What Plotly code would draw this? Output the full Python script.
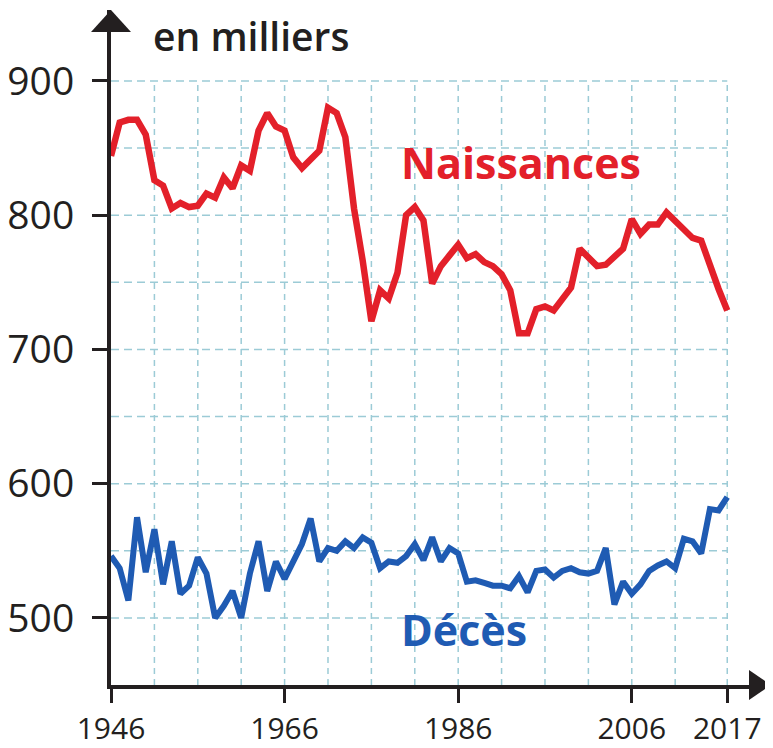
import plotly.graph_objects as go

# Naissances et décès en France (en milliers)
years = list(range(1946, 2018))

naissances = [
    844, 869, 871, 871, 860, 826, 822, 805, 809, 806,
    807, 816, 813, 828, 820, 837, 833, 863, 876, 866,
    863, 843, 835, 842, 848, 880, 876, 858, 805, 766,
    721, 744, 738, 757, 800, 806, 796, 749, 762, 770,
    778, 768, 771, 765, 762, 756, 744, 712, 712, 730,
    732, 729, 738, 746, 775, 769, 762, 763, 769, 775,
    797, 786, 793, 793, 802, 796, 790, 783, 781, 762,
    745, 729,
]

deces = [
    546, 537, 513, 575, 534, 566, 525, 557, 518, 524,
    545, 533, 500, 509, 520, 500, 533, 557, 520, 542,
    529, 542, 555, 574, 542, 552, 550, 557, 552, 560,
    556, 537, 542, 541, 546, 555, 543, 560, 542, 552,
    548, 527, 528, 526, 524, 524, 522, 531, 519, 535,
    536, 530, 535, 537, 534, 533, 535, 552, 510, 527,
    518, 525, 535, 539, 542, 537, 559, 557, 548, 581,
    580, 590,
]

x_ticks = [1946, 1966, 1986, 2006, 2017]
y_ticks = [500, 600, 700, 800, 900]

RED = '#e3202a'
BLUE = '#1f5bb3'
INK = '#231f20'
GRID = '#9ccbd6'
FONT = 'Open Sans, sans-serif'

fig = go.Figure()

fig.add_trace(go.Scatter(
    x=years, y=naissances, mode='lines', name='Naissances',
    line=dict(color=RED, width=6.5),
))
fig.add_trace(go.Scatter(
    x=years, y=deces, mode='lines', name='Décès',
    line=dict(color=BLUE, width=6),
))

# dashed grid, stopping at 900 and 2017 like the printed chart
grid_years = list(range(1951, 2015, 5)) + [2017]
for gx in grid_years:
    fig.add_shape(type='line', xref='x', yref='y', x0=gx, x1=gx, y0=450, y1=900,
                  line=dict(color=GRID, width=1.5, dash='6px,5px'), layer='below')
for gy in range(500, 901, 50):
    fig.add_shape(type='line', xref='x', yref='y', x0=1946, x1=2017, y0=gy, y1=gy,
                  line=dict(color=GRID, width=1.5, dash='8px,5px'), layer='below')

# arrow heads on both axes
fig.add_shape(type='path', xref='paper', yref='paper', xanchor=1, yanchor=0,
              xsizemode='pixel', ysizemode='pixel',
              path='M 0,0 L -22,15 L -22,-15 Z', fillcolor=INK, line=dict(width=0))
fig.add_shape(type='path', xref='paper', yref='paper', xanchor=0, yanchor=1,
              xsizemode='pixel', ysizemode='pixel',
              path='M 0,0 L -20,-22 L 20,-22 Z', fillcolor=INK, line=dict(width=0))

fig.add_annotation(x=1950.6, y=933.5, xref='x', yref='y', text='en milliers',
                   showarrow=False, xanchor='left', yanchor='middle',
                   font=dict(family=FONT, size=39, color=INK, weight=600))
fig.add_annotation(x=1979.2, y=839, xref='x', yref='y', text='Naissances',
                   showarrow=False, xanchor='left', yanchor='middle',
                   font=dict(family=FONT, size=43, color=RED, weight='bold'))
fig.add_annotation(x=1979.2, y=491, xref='x', yref='y', text='Décès',
                   showarrow=False, xanchor='left', yanchor='middle',
                   font=dict(family=FONT, size=43, color=BLUE, weight='bold'))

# the page keeps its default 8px body margin, so the figure is shrunk to fit
fig.update_layout(
    width=765, height=740,
    margin=dict(l=103, r=2, t=2, b=63),
    paper_bgcolor='white', plot_bgcolor='white',
    showlegend=False,
    font=dict(family=FONT, color=INK),
)

fig.update_xaxes(
    range=[1946, 2022.04], tickvals=x_ticks, ticktext=[str(t) for t in x_ticks],
    showgrid=False, zeroline=False, showline=True, linecolor=INK, linewidth=4,
    ticks='outside', ticklen=14, tickwidth=3, tickcolor=INK, ticklabelstandoff=0,
    tickfont=dict(family=FONT, size=30, color=INK), automargin=False,
)
fig.update_yaxes(
    range=[450, 952.8], tickvals=y_ticks, ticktext=[str(t) for t in y_ticks],
    showgrid=False, zeroline=False, showline=True, linecolor=INK, linewidth=4,
    ticks='outside', ticklen=15, tickwidth=3, tickcolor=INK, ticklabelstandoff=10,
    tickfont=dict(family=FONT, size=39, color=INK), automargin=False,
)

fig.write_html("out.html")
